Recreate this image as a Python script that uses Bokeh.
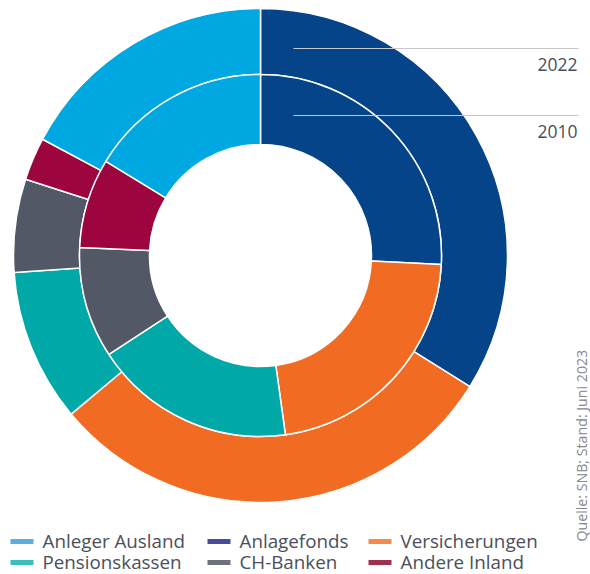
import numpy as np
from bokeh.plotting import figure
from bokeh.models import Range1d, Label
from bokeh.embed import file_html
from bokeh.resources import INLINE

# ---- data ----
categories = ["Anleger Ausland", "Anlagefonds", "Versicherungen",
              "Pensionskassen", "CH-Banken", "Andere Inland"]
values_2022 = [17.2, 33.9, 30.0, 10.0, 6.1, 2.8]
values_2010 = [16.3, 25.8, 22.0, 18.0, 9.9, 8.0]
# clockwise drawing order starting at 12 o'clock
draw_order = ["Anlagefonds", "Versicherungen", "Pensionskassen",
              "CH-Banken", "Andere Inland", "Anleger Ausland"]
chart_colors = {"Anleger Ausland": "#00a8e1", "Anlagefonds": "#06448a",
                "Versicherungen": "#f26b23", "Pensionskassen": "#00a9a8",
                "CH-Banken": "#525866", "Andere Inland": "#9c053d"}
legend_colors = {"Anleger Ausland": "#5aafe0", "Anlagefonds": "#4a4a9c",
                 "Versicherungen": "#f58a4a", "Pensionskassen": "#3abfb8",
                 "CH-Banken": "#6d737d", "Andere Inland": "#a03050"}
ring_labels = ["2022", "2010"]
source_text = "Quelle: SNB; Stand: Juni 2023"

W, H = 590, 574
FONT = "Open Sans"
TXT = "#4a4f5a"


def Y(py):  # page y -> data y
    return H - py


p = figure(width=W, height=H, x_range=Range1d(0, W), y_range=Range1d(0, H),
           output_backend="svg", toolbar_location=None, min_border=0)
p.axis.visible = False
p.grid.visible = False
p.outline_line_color = None
p.background_fill_color = "white"

cx, cy = 260, Y(255)
R_out, R_mid, R_in = 247, 181, 111


def ring(vals, r0, r1):
    v = np.array([vals[categories.index(c)] for c in draw_order], dtype=float)
    frac = v / v.sum()
    cum = np.concatenate([[0], np.cumsum(frac)])
    start = np.pi / 2 - 2 * np.pi * cum[:-1]
    end = np.pi / 2 - 2 * np.pi * cum[1:]
    cols = [chart_colors[c] for c in draw_order]
    p.annular_wedge(x=cx, y=cy, inner_radius=r0, outer_radius=r1,
                    start_angle=list(start), end_angle=list(end), direction="clock",
                    fill_color=cols, line_color="white", line_width=1.5)


ring(values_2022, R_mid, R_out)
ring(values_2010, R_in, R_mid)

# ring label lines
for lbl, ly in zip(ring_labels, [48, 115]):
    p.segment(x0=293, y0=Y(ly), x1=578, y1=Y(ly), line_color="#c4c7cc", line_width=1.2)
    p.add_layout(Label(x=577, y=Y(ly + 15.5), text=lbl, text_font=FONT, text_font_size="17.5px",
                       text_color=TXT, text_align="right", text_baseline="middle"))

# legend
col_x = [10, 207, 368]
row_y = [541, 562]
for i, c in enumerate(categories):
    r, k = divmod(i, 3)
    x0 = col_x[k]
    yy = row_y[r]
    p.rect(x=x0 + 11.5, y=Y(yy), width=23, height=5, fill_color=legend_colors[c], line_color=None)
    p.add_layout(Label(x=x0 + 32, y=Y(yy - 0.5), text=c, text_font=FONT, text_font_size="18.8px",
                       text_color=TXT, text_align="left", text_baseline="middle"))

# source
p.add_layout(Label(x=581, y=Y(541), text=source_text, angle=np.pi / 2, text_font=FONT,
                   text_font_size="14.2px", text_color="#85888e", text_align="left",
                   text_baseline="middle"))

open("out.html", "w").write(file_html(p, INLINE))
